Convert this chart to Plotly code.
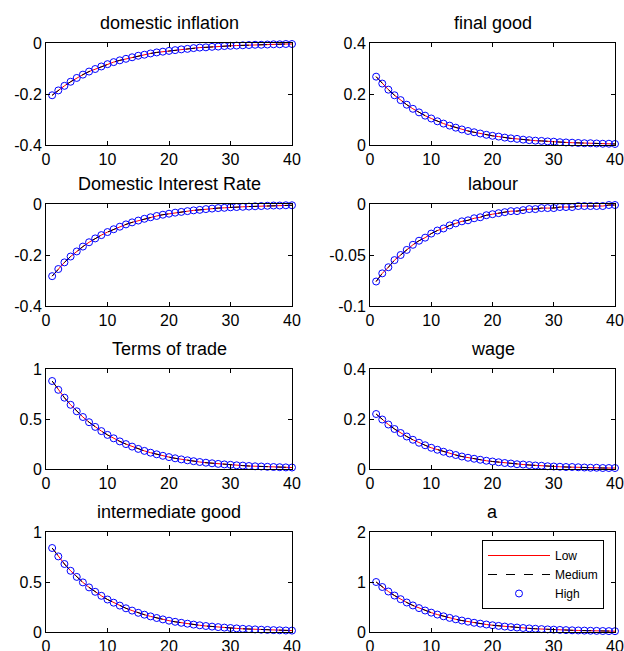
import plotly.graph_objects as go

periods = list(range(1, 41))

titles = ["domestic inflation", "final good", "Domestic Interest Rate", "labour",
          "Terms of trade", "wage", "intermediate good", "a"]

domestic_inflation = [-0.205, -0.186, -0.168, -0.152, -0.137, -0.124, -0.112, -0.102, -0.092, -0.083,
                      -0.075, -0.068, -0.062, -0.056, -0.050, -0.046, -0.041, -0.037, -0.034, -0.031,
                      -0.028, -0.025, -0.023, -0.020, -0.018, -0.017, -0.015, -0.014, -0.012, -0.011,
                      -0.010, -0.009, -0.008, -0.007, -0.007, -0.006, -0.005, -0.005, -0.004, -0.004]
final_good = [0.268, 0.241, 0.217, 0.195, 0.176, 0.158, 0.142, 0.128, 0.115, 0.104,
              0.093, 0.084, 0.076, 0.068, 0.061, 0.055, 0.050, 0.045, 0.040, 0.036,
              0.033, 0.029, 0.026, 0.024, 0.021, 0.019, 0.017, 0.016, 0.014, 0.013,
              0.011, 0.010, 0.009, 0.008, 0.007, 0.007, 0.006, 0.005, 0.005, 0.004]
interest_rate = [-0.283, -0.255, -0.229, -0.206, -0.186, -0.167, -0.150, -0.135, -0.122, -0.110,
                 -0.099, -0.089, -0.080, -0.072, -0.065, -0.058, -0.052, -0.047, -0.042, -0.038,
                 -0.034, -0.031, -0.028, -0.025, -0.023, -0.020, -0.018, -0.016, -0.015, -0.013,
                 -0.012, -0.011, -0.010, -0.009, -0.008, -0.007, -0.006, -0.006, -0.005, -0.005]
labour = [-0.076, -0.068, -0.062, -0.055, -0.050, -0.045, -0.040, -0.036, -0.033, -0.029,
          -0.026, -0.024, -0.021, -0.019, -0.017, -0.016, -0.014, -0.013, -0.011, -0.010,
          -0.009, -0.008, -0.007, -0.007, -0.006, -0.005, -0.005, -0.004, -0.004, -0.004,
          -0.003, -0.003, -0.003, -0.002, -0.002, -0.002, -0.002, -0.002, -0.001, -0.001]
terms_of_trade = [0.880, 0.792, 0.713, 0.642, 0.577, 0.520, 0.468, 0.421, 0.379, 0.341,
                  0.307, 0.276, 0.249, 0.224, 0.201, 0.181, 0.163, 0.147, 0.132, 0.119,
                  0.107, 0.096, 0.087, 0.078, 0.070, 0.063, 0.057, 0.051, 0.046, 0.042,
                  0.037, 0.034, 0.030, 0.027, 0.025, 0.022, 0.020, 0.018, 0.016, 0.015]
wage = [0.220, 0.198, 0.178, 0.160, 0.144, 0.130, 0.117, 0.105, 0.095, 0.085,
        0.077, 0.069, 0.062, 0.056, 0.050, 0.045, 0.041, 0.037, 0.033, 0.030,
        0.027, 0.024, 0.022, 0.019, 0.018, 0.016, 0.014, 0.013, 0.011, 0.010,
        0.009, 0.008, 0.008, 0.007, 0.006, 0.005, 0.005, 0.004, 0.004, 0.004]
intermediate_good = [0.840, 0.756, 0.680, 0.612, 0.551, 0.496, 0.446, 0.402, 0.362, 0.325,
                     0.293, 0.264, 0.237, 0.214, 0.192, 0.173, 0.156, 0.140, 0.126, 0.113,
                     0.102, 0.092, 0.083, 0.074, 0.067, 0.060, 0.054, 0.049, 0.044, 0.040,
                     0.036, 0.032, 0.029, 0.026, 0.023, 0.021, 0.019, 0.017, 0.015, 0.014]
a_shock = [1.000, 0.900, 0.810, 0.729, 0.656, 0.590, 0.531, 0.478, 0.430, 0.387,
           0.349, 0.314, 0.282, 0.254, 0.229, 0.206, 0.185, 0.167, 0.150, 0.135,
           0.122, 0.109, 0.098, 0.089, 0.080, 0.072, 0.065, 0.058, 0.052, 0.047,
           0.042, 0.038, 0.034, 0.031, 0.028, 0.025, 0.023, 0.020, 0.018, 0.016]

series = [domestic_inflation, final_good, interest_rate, labour,
          terms_of_trade, wage, intermediate_good, a_shock]

y_ranges = [[-0.4, 0], [0, 0.4], [-0.4, 0], [-0.1, 0],
            [0, 1], [0, 0.4], [0, 1], [0, 2]]
y_tickvals = [[-0.4, -0.2, 0], [0, 0.2, 0.4], [-0.4, -0.2, 0], [-0.1, -0.05, 0],
              [0, 0.5, 1], [0, 0.2, 0.4], [0, 0.5, 1], [0, 1, 2]]
y_ticktext = [["-0.4", "-0.2", "0"], ["0", "0.2", "0.4"], ["-0.4", "-0.2", "0"], ["-0.1", "-0.05", "0"],
              ["0", "0.5", "1"], ["0", "0.2", "0.4"], ["0", "0.5", "1"], ["0", "1", "2"]]
x_tickvals = [0, 10, 20, 30, 40]
x_ticktext = ["0", "10", "20", "30", "40"]

W, H = 624, 651
col_px = [(46, 292), (370, 615)]
row_px = [(43, 145), (204, 306), (369, 469), (532, 632)]

font_family = "Liberation Sans, Arial, sans-serif"
fig = go.Figure()

for i in range(8):
    r, c = divmod(i, 2)
    ax = i + 1
    xname = "x" if ax == 1 else f"x{ax}"
    yname = "y" if ax == 1 else f"y{ax}"
    vals = series[i]
    show = (i == 7)
    fig.add_trace(go.Scatter(x=periods, y=vals, mode="lines", name="Low",
                             line=dict(color="red", width=1), xaxis=xname, yaxis=yname,
                             showlegend=show))
    fig.add_trace(go.Scatter(x=periods, y=vals, mode="lines", name="Medium",
                             line=dict(color="black", width=1, dash="dash"), xaxis=xname, yaxis=yname,
                             showlegend=show))
    fig.add_trace(go.Scatter(x=periods, y=vals, mode="markers", name="High",
                             marker=dict(symbol="circle-open", color="blue", size=7,
                                         line=dict(width=1, color="blue")),
                             xaxis=xname, yaxis=yname, showlegend=show, cliponaxis=False))
    x0, x1 = col_px[c]
    y0, y1 = row_px[r]
    xd = [x0 / W, x1 / W]
    yd = [1 - y1 / H, 1 - y0 / H]
    axis_common = dict(showline=True, linecolor="black", linewidth=1, mirror="ticks",
                       ticks="inside", ticklen=4, tickcolor="black", showgrid=False,
                       zeroline=False, automargin=False,
                       tickfont=dict(family=font_family, size=16, color="black"))
    fig.layout[f"xaxis{ax if ax > 1 else ''}"] = dict(
        domain=xd, range=[0, 40], tickvals=x_tickvals, ticktext=x_ticktext,
        anchor=yname, **axis_common)
    fig.layout[f"yaxis{ax if ax > 1 else ''}"] = dict(
        domain=yd, range=y_ranges[i], tickvals=y_tickvals[i], ticktext=y_ticktext[i],
        anchor=xname, **axis_common)
    fig.add_annotation(text=titles[i], x=(xd[0] + xd[1]) / 2, y=yd[1], xref="paper", yref="paper",
                       xanchor="center", yanchor="bottom", yshift=8, showarrow=False,
                       font=dict(family=font_family, size=18, color="black"))

fig.update_layout(
    width=W, height=H, margin=dict(l=0, r=0, t=0, b=0, autoexpand=False),
    paper_bgcolor="white", plot_bgcolor="white",
    legend=dict(x=482 / W, y=1 - 540 / H, xanchor="left", yanchor="top",
                bgcolor="white", bordercolor="black", borderwidth=1,
                font=dict(family=font_family, size=12, color="black"),
                itemwidth=62, tracegroupgap=0),
)

fig.write_html("out.html", config={"displayModeBar": False},
               post_script="document.body.style.margin='0';document.body.style.padding='0';"
                           "document.documentElement.style.overflow='hidden';")
